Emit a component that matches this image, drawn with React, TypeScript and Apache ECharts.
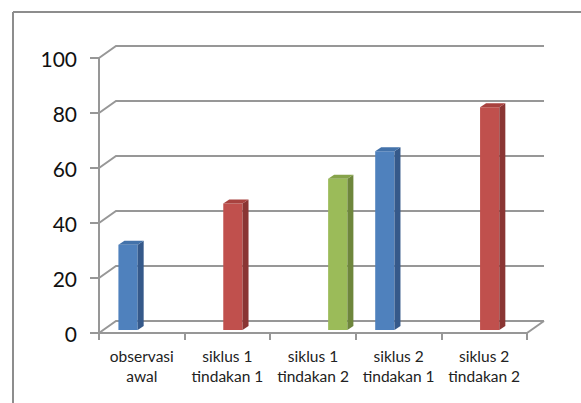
import React, { useEffect, useRef } from "react";
import * as echarts from "echarts";

const categories = [
  "observasi\nawal",
  "siklus 1\ntindakan 1",
  "siklus 1\ntindakan 2",
  "siklus 2\ntindakan 1",
  "siklus 2\ntindakan 2",
];
const blueValues: (number | null)[] = [31, null, null, 65, null];
const redValues: (number | null)[] = [null, 46, null, null, 81];
const greenValues: (number | null)[] = [null, null, 55, null, null];
const yTicks = [0, 20, 40, 60, 80, 100];

const GRID_COLOR = "#979797";

function toData(arr: (number | null)[]) {
  return arr
    .map((v, i) => [i, v])
    .filter((d) => d[1] !== null && d[1] !== undefined);
}

function makeBar(k: number, colors: string[]) {
  return (params: any, api: any) => {
    const i = api.value(0);
    const v = api.value(1);
    const base = api.coord([i, 0]);
    const top = api.coord([i, v]);
    const band = api.size([1, 0])[0];
    const w = band * 0.225;
    const x = base[0] + 5.5 + (k - 1.5) * w;
    const yb = base[1] - 3;
    const yt = top[1] - 3;
    const dx = 6;
    const dy = -4;
    return {
      type: "group",
      children: [
        {
          type: "rect",
          shape: { x, y: yt, width: w, height: yb - yt },
          style: { fill: colors[0] },
        },
        {
          type: "polygon",
          shape: {
            points: [
              [x + w, yt],
              [x + w + dx, yt + dy],
              [x + w + dx, yb + dy],
              [x + w, yb],
            ],
          },
          style: { fill: colors[1] },
        },
        {
          type: "polygon",
          shape: {
            points: [
              [x, yt],
              [x + dx, yt + dy],
              [x + w + dx, yt + dy],
              [x + w, yt],
            ],
          },
          style: { fill: colors[2] },
        },
      ],
    };
  };
}

function wallRender(params: any, api: any) {
  const v = api.value(1);
  const p = api.coord([0, v]);
  const cs = params.coordSys;
  const x0 = cs.x;
  const x1 = cs.x + cs.width;
  const y = p[1];
  const DX = 17;
  const DY = -12;
  const children: any[] = [
    {
      type: "polyline",
      shape: {
        points: [
          [x0, y],
          [x0 + DX, y + DY],
          [x1 + DX, y + DY],
        ],
      },
      style: { stroke: GRID_COLOR, lineWidth: 2, fill: null },
    },
  ];
  if (v === 0) {
    children.push({
      type: "line",
      shape: { x1: x1, y1: y, x2: x1 + DX, y2: y + DY },
      style: { stroke: GRID_COLOR, lineWidth: 2 },
    });
  }
  return { type: "group", children };
}

export default function App() {
  const ref = useRef<HTMLDivElement>(null);
  useEffect(() => {
    if (!ref.current) return;
    const chart = echarts.init(ref.current, null, { renderer: "svg" });
    chart.setOption({
      animation: false,
      backgroundColor: "#ffffff",
      graphic: [
        {
          type: "line",
          shape: { x1: 13, y1: 12, x2: 590, y2: 12 },
          style: { stroke: "#8d8d8d", lineWidth: 2 },
          silent: true,
        },
        {
          type: "line",
          shape: { x1: 13, y1: 12, x2: 13, y2: 410 },
          style: { stroke: "#8d8d8d", lineWidth: 2 },
          silent: true,
        },
      ],
      grid: {
        left: 99,
        top: 58,
        width: 428,
        height: 275,
        outerBoundsMode: "none",
        containLabel: false,
      },
      xAxis: {
        type: "category",
        data: categories,
        boundaryGap: true,
        axisLine: { show: true, lineStyle: { color: GRID_COLOR, width: 2 } },
        axisTick: {
          show: true,
          length: 7,
          lineStyle: { color: GRID_COLOR, width: 2 },
        },
        axisLabel: {
          interval: 0,
          margin: 13,
          fontFamily: "Lato",
          fontSize: 15.5,
          lineHeight: 20,
          color: "#222222",
        },
        splitLine: { show: false },
      },
      yAxis: {
        type: "value",
        min: 0,
        max: 100,
        interval: 20,
        axisLine: { show: true, lineStyle: { color: GRID_COLOR, width: 2 } },
        axisTick: {
          show: true,
          length: 9,
          lineStyle: { color: GRID_COLOR, width: 2 },
        },
        axisLabel: {
          margin: 22,
          fontFamily: "Lato",
          fontSize: 21,
          color: "#111111",
        },
        splitLine: { show: false },
      },
      series: [
        {
          type: "custom",
          name: "wall",
          silent: true,
          z: 1,
          renderItem: wallRender,
          encode: { x: 0, y: 1 },
          data: yTicks.map((v) => [0, v]),
        },
        {
          type: "custom",
          name: "blue",
          z: 3,
          renderItem: makeBar(0, ["#4F81BD", "#35598A", "#4372AA"]),
          encode: { x: 0, y: 1 },
          data: toData(blueValues),
        },
        {
          type: "custom",
          name: "red",
          z: 3,
          renderItem: makeBar(1, ["#C0504D", "#8A3533", "#A8423F"]),
          encode: { x: 0, y: 1 },
          data: toData(redValues),
        },
        {
          type: "custom",
          name: "green",
          z: 3,
          renderItem: makeBar(2, ["#9BBB59", "#6E863C", "#86A34A"]),
          encode: { x: 0, y: 1 },
          data: toData(greenValues),
        },
      ],
    });
    return () => chart.dispose();
  }, []);
  return (
    <div
      ref={ref}
      style={{ position: "fixed", left: 0, top: 0, width: 581, height: 403 }}
    />
  );
}
